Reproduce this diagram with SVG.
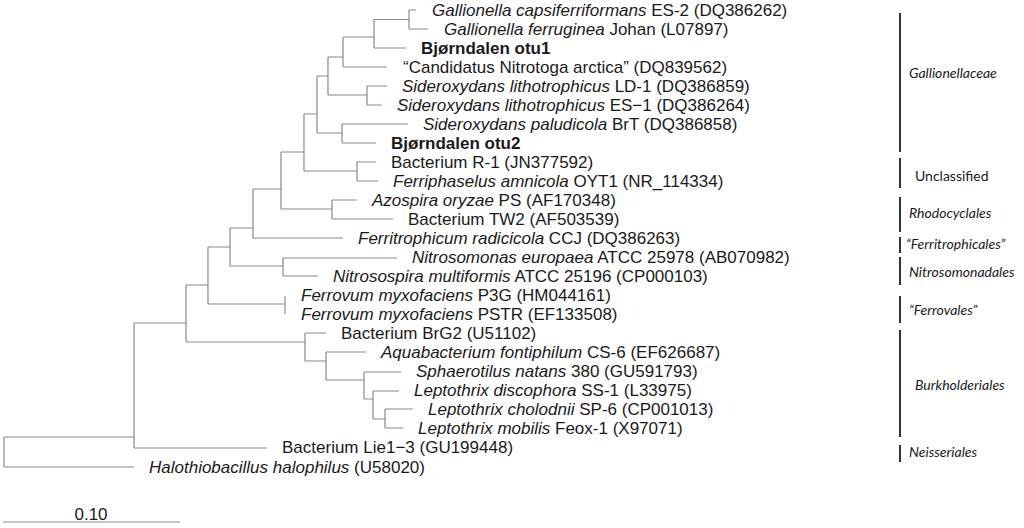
<svg xmlns="http://www.w3.org/2000/svg" width="1024" height="528" viewBox="0 0 1024 528">
<style>
.t{font-family:"Liberation Sans",Arial,sans-serif;font-size:17px;fill:#1a1a1a}
.i{font-style:italic}
.b{font-weight:bold}
.e path{fill:none;stroke:#8a8a8a;stroke-width:1.2}
.bar{stroke:#333;stroke-width:2}
.g{font-family:Lato,"Open Sans",sans-serif;font-size:14px;fill:#1a1a1a}
</style>
<rect width="1024" height="528" fill="#fff"/>
<g id="connectors" class="e">
<path d="M409 10V29M409 10H416M409 29H428"/>
<path d="M374 19.5V48M374 19.5H409M374 48H406"/>
<path d="M343 37V67M343 37H374M343 67H387"/>
<path d="M367 86V105M367 86H387M367 105H382"/>
<path d="M328 57V95M328 57H343M328 95H367"/>
<path d="M342 124V143M342 124H408M342 143H376"/>
<path d="M317 76V133M317 76H328M317 133H342"/>
<path d="M357 162V181M357 162H376M357 181H378"/>
<path d="M304 114V171M304 114H317M304 171H357"/>
<path d="M332 200V219M332 200H357M332 219H393"/>
<path d="M281 152V209M281 152H304M281 209H332"/>
<path d="M253 189V238M253 189H281M253 238H343"/>
<path d="M283 258V276M283 258H397M283 276H318"/>
<path d="M230 228V266M230 228H253M230 266H283"/>
<path d="M285 296V314"/>
<path d="M208 247V304M208 247H230M208 304H285"/>
<path d="M385 409V428M385 409H413M385 428H403"/>
<path d="M373 391V419M373 391H399M373 419H385"/>
<path d="M364 372V399M364 372H401M364 399H373"/>
<path d="M326 352V380M326 352H366M326 380H364"/>
<path d="M305 333V361M305 333H326M305 361H326"/>
<path d="M186 285V342M186 285H208M186 342H305"/>
<path d="M134 323V448M134 323H186M134 448H267"/>
<path d="M4 437V467M4 437H134M4 467H134"/>
<path d="M3 522H180"/>
</g>
<g id="leaves">
<text class="t" x="432" y="16"><tspan class="i">Gallionella capsiferriformans</tspan> ES-2 (DQ386262)</text>
<text class="t" x="444" y="35"><tspan class="i">Gallionella ferruginea</tspan> Johan (L07897)</text>
<text class="t b" x="421" y="54">Bjørndalen otu1</text>
<text class="t" x="403" y="73">“Candidatus Nitrotoga arctica” (DQ839562)</text>
<text class="t" x="402" y="92"><tspan class="i">Sideroxydans lithotrophicus</tspan> LD-1 (DQ386859)</text>
<text class="t" x="397" y="111"><tspan class="i">Sideroxydans lithotrophicus</tspan> ES−1 (DQ386264)</text>
<text class="t" x="423" y="130"><tspan class="i">Sideroxydans paludicola</tspan> BrT (DQ386858)</text>
<text class="t b" x="391" y="149">Bjørndalen otu2</text>
<text class="t" x="391" y="168">Bacterium R-1 (JN377592)</text>
<text class="t" x="393" y="187"><tspan class="i">Ferriphaselus amnicola</tspan> OYT1 (NR_114334)</text>
<text class="t" x="372" y="206"><tspan class="i">Azospira oryzae</tspan> PS (AF170348)</text>
<text class="t" x="408" y="225">Bacterium TW2 (AF503539)</text>
<text class="t" x="358" y="244"><tspan class="i">Ferritrophicum radicicola</tspan> CCJ (DQ386263)</text>
<text class="t" x="412" y="263"><tspan class="i">Nitrosomonas europaea</tspan> ATCC 25978 (AB070982)</text>
<text class="t" x="333" y="282"><tspan class="i">Nitrosospira multiformis</tspan> ATCC 25196 (CP000103)</text>
<text class="t" x="301" y="301"><tspan class="i">Ferrovum myxofaciens</tspan> P3G (HM044161)</text>
<text class="t" x="301" y="320"><tspan class="i">Ferrovum myxofaciens</tspan> PSTR (EF133508)</text>
<text class="t" x="341" y="339">Bacterium BrG2 (U51102)</text>
<text class="t" x="381" y="358"><tspan class="i">Aquabacterium fontiphilum</tspan> CS-6 (EF626687)</text>
<text class="t" x="416" y="377"><tspan class="i">Sphaerotilus natans</tspan> 380 (GU591793)</text>
<text class="t" x="414" y="396"><tspan class="i">Leptothrix discophora</tspan> SS-1 (L33975)</text>
<text class="t" x="428" y="415"><tspan class="i">Leptothrix cholodnii</tspan> SP-6 (CP001013)</text>
<text class="t" x="418" y="434"><tspan class="i">Leptothrix mobilis</tspan> Feox-1 (X97071)</text>
<text class="t" x="282" y="453">Bacterium Lie1−3 (GU199448)</text>
<text class="t" x="149" y="473"><tspan class="i">Halothiobacillus halophilus</tspan> (U58020)</text>
<text class="t" x="91" y="520" text-anchor="middle">0.10</text>
</g>
<g id="groups">
<line class="bar" x1="900" y1="13" x2="900" y2="152"/>
<text class="g i" x="909" y="78">Gallionellaceae</text>
<line class="bar" x1="900" y1="158" x2="900" y2="188"/>
<text class="g" x="915" y="181">Unclassified</text>
<line class="bar" x1="900" y1="197" x2="900" y2="232"/>
<text class="g i" x="909" y="218">Rhodocyclales</text>
<line class="bar" x1="900" y1="237" x2="900" y2="253"/>
<text class="g i" x="906" y="249">“Ferritrophicales”</text>
<line class="bar" x1="900" y1="257" x2="900" y2="285"/>
<text class="g i" x="909" y="277">Nitrosomonadales</text>
<line class="bar" x1="900" y1="296" x2="900" y2="323"/>
<text class="g i" x="909" y="315">“Ferrovales”</text>
<line class="bar" x1="900" y1="330" x2="900" y2="437"/>
<text class="g i" x="915" y="390">Burkholderiales</text>
<line class="bar" x1="900" y1="445" x2="900" y2="462"/>
<text class="g i" x="909" y="457">Neisseriales</text>
</g>
</svg>
